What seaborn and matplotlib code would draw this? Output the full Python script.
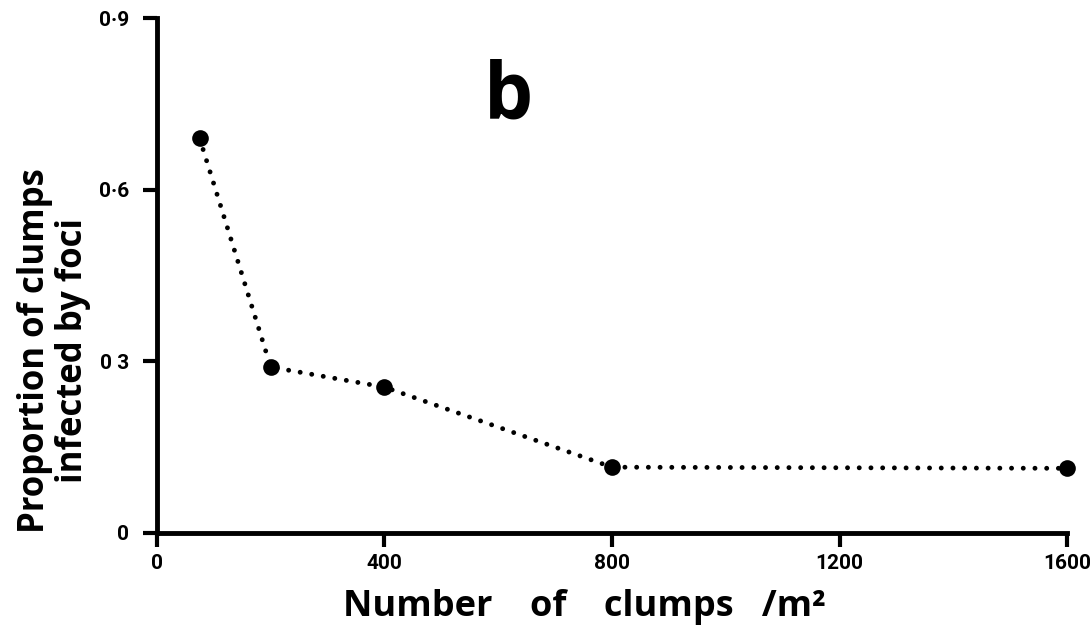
import matplotlib.pyplot as plt
import pandas as pd
import seaborn as sns

# data
clumps = [75, 200, 400, 800, 1600]
proportion = [0.69, 0.29, 0.255, 0.115, 0.113]
xticks = [0, 400, 800, 1200, 1600]
xtick_labels = ["0", "400", "800", "1200", "1600"]
yticks = [0, 0.3, 0.6, 0.9]
ytick_labels = ["0", "0 3", "0·6", "0·9"]

sns.set_style("ticks")
plt.rcParams["font.family"] = ["Roboto", "DejaVu Sans"]
plt.rcParams["text.color"] = "black"
plt.rcParams["axes.labelcolor"] = "black"
plt.rcParams["xtick.color"] = "black"
plt.rcParams["ytick.color"] = "black"

label_font = ["Open Sans", "DejaVu Sans"]

fig = plt.figure(figsize=(10.9, 6.27), dpi=100)
ax = fig.add_axes([0.144, 0.150, 0.835, 0.821])

df = pd.DataFrame({"clumps": clumps, "proportion": proportion})
sns.lineplot(data=df, x="clumps", y="proportion", ax=ax, color="black",
             marker="o", markersize=12, markeredgewidth=0,
             linewidth=3.5, linestyle=(0, (0.01, 2.4)), dash_capstyle="round",
             clip_on=False)

ax.set_xlim(0, 1600)
ax.set_ylim(0, 0.9)
ax.set_xticks(xticks, xtick_labels)
ax.set_yticks(yticks, ytick_labels)
ax.tick_params(axis="both", direction="out", length=10, width=3, labelsize=15)
ax.tick_params(axis="y", pad=10)
ax.tick_params(axis="x", pad=5)
for lab in ax.get_xticklabels() + ax.get_yticklabels():
    lab.set_fontweight("bold")

sns.despine(ax=ax)
for side in ["left", "bottom"]:
    ax.spines[side].set_linewidth(3.5)
    ax.spines[side].set_color("black")

ax.set_xlabel("Number    of    clumps   /m²", family=label_font,
              fontsize=26, fontweight="bold")
ax.xaxis.set_label_coords(0.47, -0.108)
ax.set_ylabel("Proportion of clumps\ninfected by foci", family=label_font,
              fontsize=25, fontweight="bold", linespacing=1.1)
ax.yaxis.set_label_coords(-0.072, 0.355)

fig.text(508 / 1090, 1 - 98 / 627, "b", family=label_font,
         fontsize=56, fontweight="bold", ha="center", va="center")

fig.savefig("out.png", dpi=100)
